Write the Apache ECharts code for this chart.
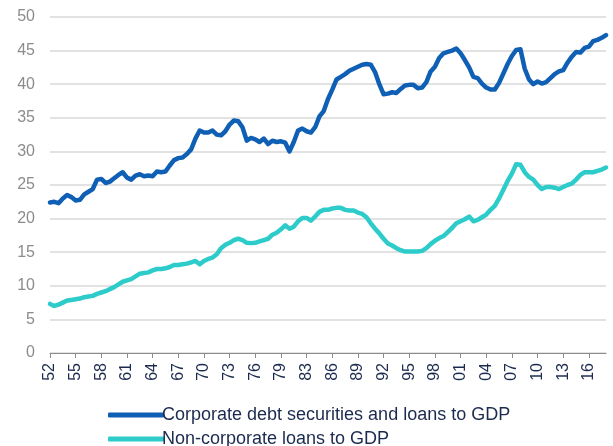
<!DOCTYPE html>
<html>
<head>
<meta charset="utf-8">
<script src="https://cdn.jsdelivr.net/npm/echarts@6/dist/echarts.min.js"></script>
<style>
  html, body { margin: 0; padding: 0; background: #fff; }
  #chart { width: 613px; height: 446px; }
</style>
</head>
<body>
<div id="chart"></div>
<script>
// half-yearly observations, 1952 onwards
const categories = [];
for (let y = 1952; categories.length < 131; y++) {
  categories.push(y + 'H1');
  if (categories.length < 131) categories.push(y + 'H2');
}

// tick labels, one every 6 half-years
const tickLabels = ['52','55','58','61','64','67','70','73','76','79','83',
  '86','89','92','95','98','01','04','07','10','13','16'];

const corporate = [
  22.4,22.5,22.3,23.0,23.5,23.2,22.7,22.8,23.6,24.0,
  24.4,25.8,25.9,25.3,25.5,26.0,26.5,26.9,26.1,25.8,
  26.4,26.6,26.3,26.4,26.3,27.0,26.9,27.0,27.9,28.7,
  29.0,29.1,29.6,30.3,31.9,33.1,32.8,32.8,33.1,32.5,
  32.4,33.0,34.0,34.6,34.5,33.6,31.6,32.0,31.8,31.4,
  31.9,31.1,31.6,31.4,31.5,31.3,30.0,31.4,33.1,33.4,
  33.0,32.8,33.6,35.2,36.0,37.8,39.2,40.7,41.1,41.5,
  42.0,42.3,42.6,42.9,43.0,42.9,41.8,40.0,38.5,38.6,
  38.8,38.7,39.3,39.8,39.9,39.9,39.4,39.5,40.3,41.9,
  42.6,43.9,44.6,44.8,45.0,45.3,44.6,43.6,42.5,41.1,
  40.9,40.1,39.5,39.2,39.2,40.2,41.6,43.0,44.2,45.1,
  45.2,42.3,40.7,40.0,40.4,40.1,40.3,40.9,41.5,41.9,
  42.1,43.2,44.1,44.8,44.7,45.4,45.6,46.4,46.6,46.9,
  47.3
];

const nonCorporate = [
  7.3,7.0,7.2,7.5,7.8,7.9,8.0,8.1,8.3,8.4,
  8.5,8.8,9.0,9.2,9.5,9.8,10.2,10.6,10.8,11.0,
  11.4,11.8,11.9,12.0,12.3,12.5,12.5,12.6,12.8,13.1,
  13.1,13.2,13.3,13.5,13.7,13.2,13.7,14.0,14.2,14.7,
  15.6,16.1,16.4,16.8,17.0,16.8,16.4,16.35,16.4,16.6,
  16.8,17.0,17.6,17.9,18.4,19.0,18.5,18.8,19.6,20.1,
  20.1,19.7,20.3,21.0,21.3,21.3,21.5,21.6,21.6,21.3,
  21.2,21.2,20.9,20.7,20.2,19.3,18.5,17.8,17.0,16.3,
  16.0,15.6,15.3,15.1,15.1,15.1,15.1,15.2,15.6,16.2,
  16.7,17.1,17.4,18.0,18.6,19.3,19.6,19.9,20.3,19.6,
  19.8,20.2,20.6,21.3,21.9,23.0,24.3,25.6,26.7,28.1,
  28.0,26.9,26.2,25.8,25.0,24.4,24.7,24.7,24.6,24.4,
  24.7,25.0,25.2,25.8,26.5,26.9,26.9,26.9,27.1,27.3,
  27.6
];

const chart = echarts.init(document.getElementById('chart'));

function showTick(idx) {
  return idx % 6 === 0;
}

const option = {
  animation: false,
  textStyle: { fontFamily: 'Liberation Sans, Arial, sans-serif' },
  grid: { left: 50, right: 7, top: 17, bottom: 93 },
  legend: {
    orient: 'vertical',
    left: 103,
    top: 401,
    height: 80,
    itemWidth: 56,
    itemHeight: 5,
    itemGap: 6,
    icon: 'roundRect',
    textStyle: { color: '#1b2a4e', fontSize: 18, padding: [0, 0, 0, -7] },
    data: ['Corporate debt securities and loans to GDP', 'Non-corporate loans to GDP']
  },
  xAxis: {
    type: 'category',
    data: categories,
    boundaryGap: false,
    axisLine: { lineStyle: { color: '#8c8c8c', width: 1 } },
    axisTick: { interval: showTick, length: 5, lineStyle: { color: '#8c8c8c' } },
    axisLabel: {
      interval: showTick,
      hideOverlap: false,
      rotate: 90,
      margin: 10,
      color: '#1b2a4e',
      fontSize: 16,
      lineHeight: 12,
      formatter: function (val) {
        const i = categories.indexOf(val);
        return tickLabels[i / 6] || '';
      }
    },
    splitLine: { show: false }
  },
  yAxis: {
    type: 'value',
    min: 0,
    max: 50,
    interval: 5,
    axisLine: { show: false },
    axisTick: { show: false },
    axisLabel: { color: '#8c8c8c', fontSize: 16, margin: 15 },
    splitLine: { lineStyle: { color: '#d9d9d9', width: 1.5 } }
  },
  series: [
    {
      name: 'Corporate debt securities and loans to GDP',
      type: 'line',
      data: corporate,
      showSymbol: false,
      lineStyle: { color: '#0f5fb5', width: 4.5, cap: 'round', join: 'round' },
      itemStyle: { color: '#0f5fb5' }
    },
    {
      name: 'Non-corporate loans to GDP',
      type: 'line',
      data: nonCorporate,
      showSymbol: false,
      lineStyle: { color: '#2ecbcb', width: 4.5, cap: 'round', join: 'round' },
      itemStyle: { color: '#2ecbcb' }
    }
  ]
};

chart.setOption(option);
</script>
</body>
</html>
